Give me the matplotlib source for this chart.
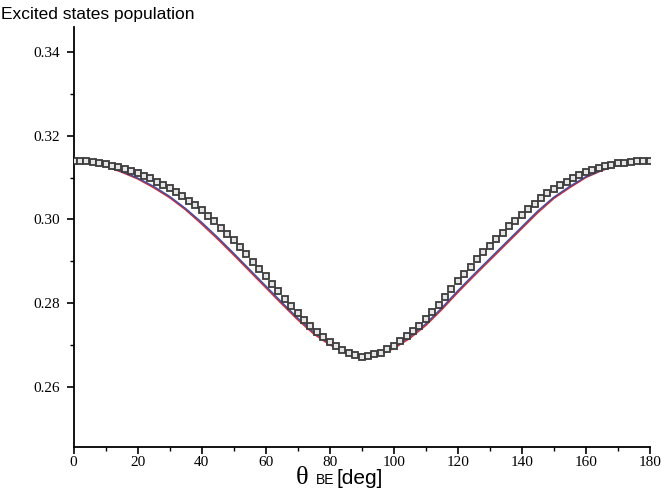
import matplotlib
matplotlib.use('Agg')
import matplotlib.pyplot as plt
import numpy as np

# curves (every 5 deg)
theta_line = list(range(0, 181, 5))
blue_line = [0.3140, 0.3137, 0.3128, 0.3115, 0.3099, 0.3079, 0.3055, 0.3026, 0.2993, 0.2957,
             0.2919, 0.2880, 0.2841, 0.2802, 0.2764, 0.2730, 0.2703, 0.2682, 0.2670, 0.2676,
             0.2694, 0.2719, 0.2750, 0.2788, 0.2829, 0.2868, 0.2906, 0.2944, 0.2982, 0.3020,
             0.3053, 0.3079, 0.3102, 0.3118, 0.3130, 0.3137, 0.3140]
red_line = [0.3140, 0.3137, 0.3127, 0.3113, 0.3097, 0.3076, 0.3052, 0.3023, 0.2989, 0.2953,
            0.2915, 0.2876, 0.2837, 0.2798, 0.2760, 0.2726, 0.2700, 0.2680, 0.2668, 0.2674,
            0.2691, 0.2715, 0.2746, 0.2784, 0.2825, 0.2864, 0.2902, 0.2940, 0.2978, 0.3016,
            0.3050, 0.3076, 0.3100, 0.3117, 0.3129, 0.3137, 0.3140]

# marker series (every 2 deg)
theta_pts = list(range(0, 181, 2))
pts = [0.3140, 0.3140, 0.3139, 0.3137, 0.3135, 0.3132, 0.3128, 0.3125, 0.3120, 0.3116,
       0.3110, 0.3104, 0.3098, 0.3090, 0.3083, 0.3075, 0.3066, 0.3056, 0.3045, 0.3034,
       0.3022, 0.3009, 0.2995, 0.2980, 0.2965, 0.2950, 0.2933, 0.2917, 0.2899, 0.2881,
       0.2864, 0.2846, 0.2828, 0.2810, 0.2792, 0.2775, 0.2759, 0.2745, 0.2730, 0.2718,
       0.2707, 0.2697, 0.2688, 0.2681, 0.2675, 0.2670,
       0.2673, 0.2677, 0.2681, 0.2689, 0.2698, 0.2709, 0.2720, 0.2733, 0.2746, 0.2761,
       0.2778, 0.2796, 0.2814, 0.2834, 0.2852, 0.2870, 0.2887, 0.2905, 0.2921, 0.2937,
       0.2952, 0.2967, 0.2983, 0.2997, 0.3011, 0.3024, 0.3037, 0.3051, 0.3062, 0.3073,
       0.3082, 0.3090, 0.3099, 0.3106, 0.3113, 0.3118, 0.3123, 0.3127, 0.3130, 0.3134,
       0.3136, 0.3138, 0.3139, 0.3139, 0.3140]

xticks = [0, 20, 40, 60, 80, 100, 120, 140, 160, 180]
yticks = [0.26, 0.28, 0.30, 0.32, 0.34]
yticklabels = ['0.26', '0.28', '0.30', '0.32', '0.34']

fig = plt.figure(figsize=(6.64, 4.93), dpi=100)
ax = fig.add_axes([0.1107, 0.093, 0.868, 0.852])

ax.plot(theta_line, red_line, color='#e3232b', lw=1.1, zorder=2)
ax.plot(theta_line, blue_line, color='#3d4ea3', lw=1.1, zorder=3)
ax.plot(theta_pts, pts, ls='none', marker='s', ms=3.7, mew=1.3,
        mfc='#e6e6e6', mec='#3c3c3c', zorder=4)

ax.set_xlim(0, 180)
ax.set_ylim(0.2455, 0.346)
ax.set_xticks(xticks)
ax.set_xticks(list(range(10, 180, 20)), minor=True)
ax.set_yticks(yticks)
ax.set_yticklabels(yticklabels)
ax.set_yticks([0.27, 0.29, 0.31, 0.33], minor=True)

for s in ['top', 'right']:
    ax.spines[s].set_visible(False)
for s in ['left', 'bottom']:
    ax.spines[s].set_linewidth(1.3)

ax.tick_params(which='major', direction='out', length=5, width=1.2, labelsize=11)
ax.tick_params(axis='x', which='major', pad=1.5)
ax.tick_params(axis='y', which='major', pad=5)
ax.tick_params(which='minor', direction='out', length=3, width=1.0)
for lab in ax.get_xticklabels() + ax.get_yticklabels():
    lab.set_family('Liberation Serif')

# title at top-left
fig.text(0.002, 1 - 19 / 493, 'Excited states population', family='Liberation Sans',
         fontsize=12.5, ha='left', va='baseline')

# x label built from pieces
yb = 1 - 484 / 493
fig.text(296 / 664, yb, 'θ', family='Liberation Serif', fontsize=19, va='baseline')
fig.text(316 / 664, yb, 'BE', family='Liberation Sans', fontsize=10, va='baseline')
fig.text(337 / 664, yb, '[deg]', family='Liberation Sans', fontsize=15, va='baseline')

fig.savefig('out.png', dpi=100)
